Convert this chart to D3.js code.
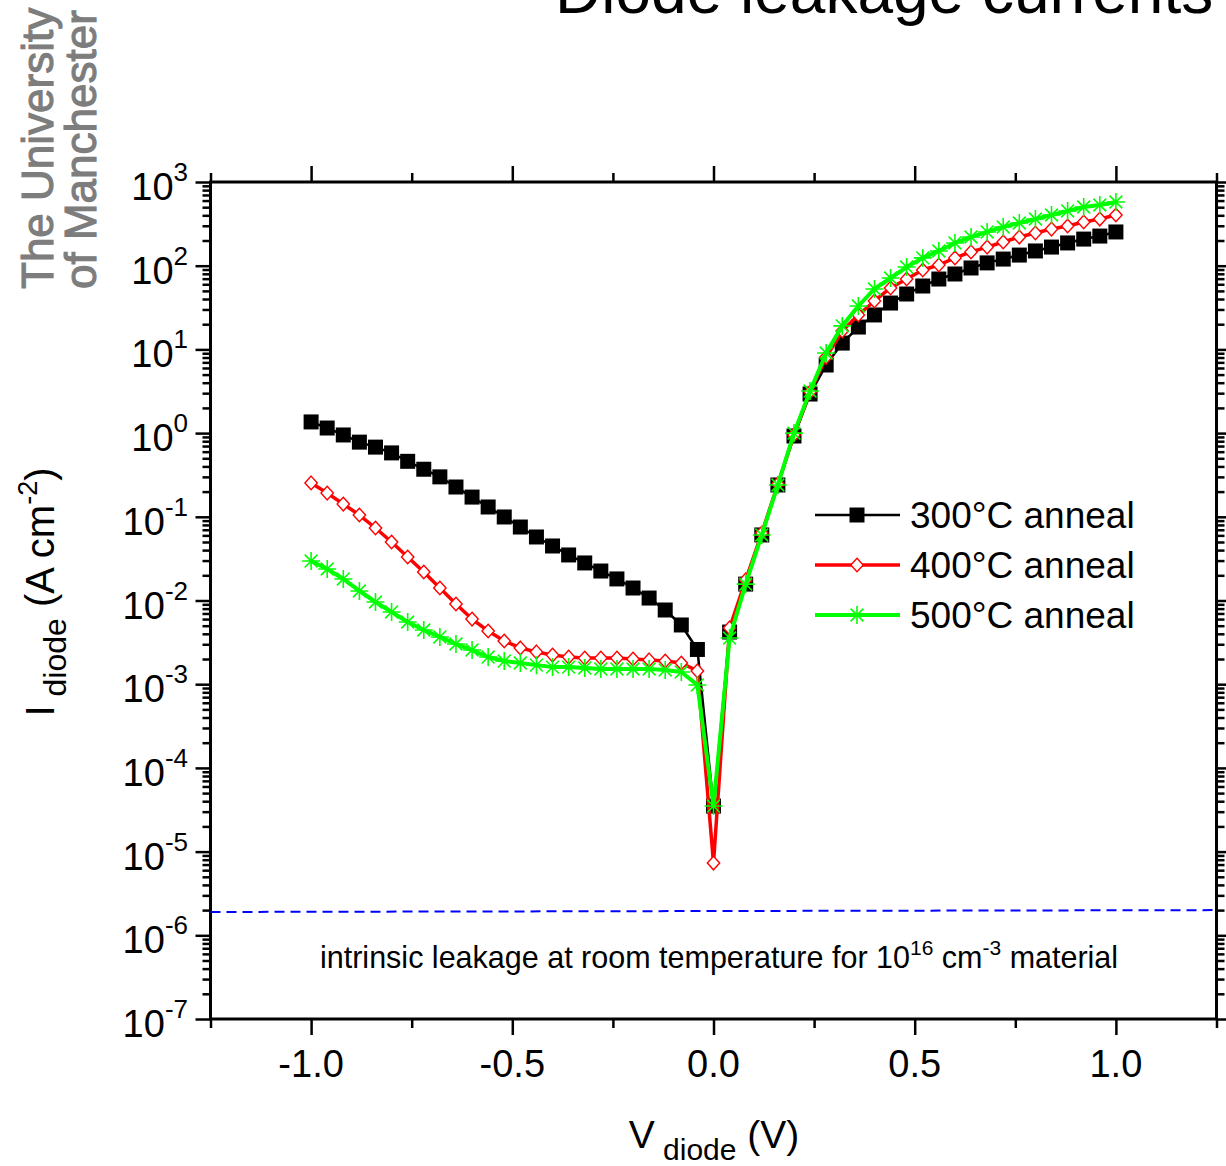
<!DOCTYPE html>
<html><head><meta charset="utf-8">
<script src="https://cdn.jsdelivr.net/npm/d3@7"></script>
<style>
body{margin:0;background:#fff}
svg{display:block}
text{font-family:"Liberation Sans",Arial,Helvetica,sans-serif;fill:#000}
</style>
</head><body>
<svg id="c" width="1226" height="1166"></svg>
<script>
// ---------------- data ----------------
const voltage = [-1.00,-0.96,-0.92,-0.88,-0.84,-0.80,-0.76,-0.72,-0.68,-0.64,-0.60,-0.56,-0.52,-0.48,-0.44,-0.40,-0.36,-0.32,-0.28,-0.24,-0.20,-0.16,-0.12,-0.08,-0.04,
  0.00,
  0.04,0.08,0.12,0.16,0.20,0.24,0.28,0.32,0.36,0.40,0.44,0.48,0.52,0.56,0.60,0.64,0.68,0.72,0.76,0.80,0.84,0.88,0.92,0.96,1.00];

const anneal300 = [1.36,1.15,0.95,0.78,0.68,0.58,0.46,0.37,0.30,0.227,0.172,0.131,0.0995,0.0755,0.0574,0.0448,0.035,0.0281,0.0225,0.0181,0.0141,0.0107,0.0077,0.0051,0.0026,
  3.5e-5,
  0.0042,0.0157,0.0607,0.240,0.923,2.93,6.51,11.9,18.5,25.8,35.8,45.9,57.2,69.3,79.6,93.9,108,120,134,150,167,187,208,226,253];

const anneal400 = [0.254,0.192,0.142,0.105,0.0735,0.050,0.0331,0.0219,0.0141,0.00908,0.0060,0.00432,0.00328,0.00271,0.00243,0.00223,0.00211,0.00205,0.00205,0.00205,0.0020,0.00195,0.00189,0.00179,0.00144,
  7.3e-6,
  0.0047,0.0176,0.064,0.247,0.95,3.1,8.1,16.6,25.8,37.9,54.2,69.3,88.9,102,124,146,167,192,220,246,274,298,333,361,403];

const anneal500 = [0.0296,0.0238,0.0181,0.0130,0.0096,0.0073,0.00554,0.00444,0.00367,0.00302,0.00256,0.00211,0.00189,0.00179,0.00169,0.00160,0.00160,0.00156,0.00152,0.00152,0.00152,0.00152,0.00148,0.00140,0.00098,
  3.5e-5,
  0.00356,0.0157,0.0607,0.240,1.0,3.18,9.06,19.1,33.0,52.7,71.3,96.4,124,150,187,220,253,290,324,361,403,451,503,531,577];

const intrinsicV = [-1.25, 1.25];
const intrinsicI = [1.9e-6, 2.0e-6];

const seriesNames = ["300\u00B0C anneal","400\u00B0C anneal","500\u00B0C anneal"];
const xTickValues = [-1.0,-0.5,0.0,0.5,1.0];
const xMinorValues = [-1.25,-0.75,-0.25,0.25,0.75,1.25];
const yExponents = [3,2,1,0,-1,-2,-3,-4,-5,-6,-7];

// ---------------- layout ----------------
const svg = d3.select("#c");
const x = d3.scaleLinear().domain([-1.25,1.25]).range([210.5,1216.5]);
const y = d3.scaleLog().domain([1e-7,1e3]).range([1019,182]);
const L = x(-1.25), R = x(1.25), T = y(1e3), B = y(1e-7);

const yMajor = yExponents.map(e => Math.pow(10,e));
const yMinor = [];
for (let e=-7;e<3;e++) for (let k=2;k<10;k++) yMinor.push(k*Math.pow(10,e));

// logo
svg.append("text").attr("transform","translate(53,289) rotate(-90)")
  .style("font-size","44px").style("fill","#7d7d7d").style("stroke","#7d7d7d").style("stroke-width","1.1px")
  .text("The University");
svg.append("text").attr("transform","translate(96,289) rotate(-90)")
  .style("font-size","44px").style("fill","#7d7d7d").style("stroke","#7d7d7d").style("stroke-width","1.1px")
  .text("of Manchester");

// title (cut by top edge, as in the reference)
svg.append("text").attr("x",555).attr("y",13).style("font-size","64px").text("Diode leakage currents");

// axes ticks
function styleAxis(g){
  g.select(".domain").remove();
  g.selectAll(".tick line").attr("stroke","#000").attr("stroke-width",2.5);
  g.selectAll(".tick text").remove();
}
svg.append("g").attr("transform",`translate(0,${B})`).call(d3.axisBottom(x).tickValues(xTickValues).tickSize(16)).call(styleAxis);
svg.append("g").attr("transform",`translate(0,${B})`).call(d3.axisBottom(x).tickValues(xMinorValues).tickSize(9)).call(styleAxis);
svg.append("g").attr("transform",`translate(0,${T})`).call(d3.axisTop(x).tickValues(xTickValues).tickSize(16)).call(styleAxis);
svg.append("g").attr("transform",`translate(0,${T})`).call(d3.axisTop(x).tickValues(xMinorValues).tickSize(9)).call(styleAxis);
svg.append("g").attr("transform",`translate(${L},0)`).call(d3.axisLeft(y).tickValues(yMajor).tickSize(15)).call(styleAxis);
svg.append("g").attr("transform",`translate(${L},0)`).call(d3.axisLeft(y).tickValues(yMinor).tickSize(8)).call(styleAxis);
svg.append("g").attr("transform",`translate(${R},0)`).call(d3.axisRight(y).tickValues(yMajor).tickSize(15)).call(styleAxis);
svg.append("g").attr("transform",`translate(${R},0)`).call(d3.axisRight(y).tickValues(yMinor).tickSize(8)).call(styleAxis);

// frame
svg.append("rect").attr("x",L).attr("y",T).attr("width",R-L).attr("height",B-T)
  .attr("fill","none").attr("stroke","#000").attr("stroke-width",3);

// x tick labels
svg.append("g").selectAll("text").data(xTickValues).join("text")
  .attr("x",d=>x(d)).attr("y",1077).attr("text-anchor","middle")
  .style("font-size","38px").text(d=>d.toFixed(1));

// y tick labels
const yl = svg.append("g").selectAll("text").data(yExponents).join("text")
  .attr("x",188).attr("y",d=>y(Math.pow(10,d))+18).attr("text-anchor","end")
  .style("font-size","38px");
yl.append("tspan").text("10");
yl.append("tspan").attr("dy",-19).style("font-size","26px").text(d=>String(d));

// axis titles
const yt = svg.append("text").attr("transform","translate(54,592) rotate(-90)")
  .attr("text-anchor","middle").style("font-size","40px");
yt.append("tspan").text("I");
yt.append("tspan").attr("dy",12).style("font-size","32px").text(" diode");
yt.append("tspan").attr("dy",-12).style("font-size","40px").text(" (A cm");
yt.append("tspan").attr("dy",-17).style("font-size","27px").text("-2");
yt.append("tspan").attr("dy",17).style("font-size","40px").text(")");

const xt = svg.append("text").attr("x",714).attr("y",1148)
  .attr("text-anchor","middle").style("font-size","39px");
xt.append("tspan").text("V");
xt.append("tspan").attr("dy",12).style("font-size","30px").text(" diode");
xt.append("tspan").attr("dy",-12).style("font-size","39px").text(" (V)");

// intrinsic line
const intr = intrinsicV.map((v,i)=>[v,intrinsicI[i]]);
svg.append("path").datum(intr)
  .attr("d",d3.line().x(d=>x(d[0])).y(d=>y(d[1])))
  .attr("fill","none").attr("stroke","#0000ff").attr("stroke-width",2).attr("stroke-dasharray","10,6");

const ann = svg.append("text").attr("x",320).attr("y",968).style("font-size","30.5px");
ann.append("tspan").text("intrinsic leakage at room temperature for 10");
ann.append("tspan").attr("dy",-13).style("font-size","21px").text("16");
ann.append("tspan").attr("dy",13).style("font-size","30.5px").text(" cm");
ann.append("tspan").attr("dy",-13).style("font-size","21px").text("-3");
ann.append("tspan").attr("dy",13).style("font-size","30.5px").text(" material");

// series
const squarePath = "M-7.5,-7.5H7.5V7.5H-7.5Z";
const diamondPath = "M0,-6.8L6.2,0L0,6.8L-6.2,0Z";
const starPath = "M0,-9V9M-9,0H9M-6.4,-6.4L6.4,6.4M-6.4,6.4L6.4,-6.4";
const series = [
  {name:seriesNames[0], vals:anneal300, color:"#000000", lw:2.5, path:squarePath, fill:"#000000", mstroke:"none", msw:0},
  {name:seriesNames[1], vals:anneal400, color:"#ff0000", lw:3.5, path:diamondPath, fill:"#ffffff", mstroke:"#ff0000", msw:1.4},
  {name:seriesNames[2], vals:anneal500, color:"#00ff00", lw:4, path:starPath, fill:"none", mstroke:"#00ff00", msw:1.6}
];
const line = d3.line().x(d=>x(d[0])).y(d=>y(d[1]));
const plot = svg.append("g");
series.forEach(s=>{
  const pts = voltage.map((v,i)=>[v,s.vals[i]]);
  plot.append("path").datum(pts).attr("d",line)
    .attr("fill","none").attr("stroke",s.color).attr("stroke-width",s.lw).attr("stroke-linejoin","round");
  plot.append("g").selectAll("path").data(pts).join("path")
    .attr("transform",d=>`translate(${x(d[0])},${y(d[1])})`)
    .attr("d",s.path).attr("fill",s.fill).attr("stroke",s.mstroke).attr("stroke-width",s.msw);
});

// legend
const leg = svg.append("g");
series.forEach((s,i)=>{
  const yy = 515 + i*50;
  leg.append("line").attr("x1",815).attr("x2",900).attr("y1",yy).attr("y2",yy)
    .attr("stroke",s.color).attr("stroke-width",s.lw);
  leg.append("path").attr("transform",`translate(857,${yy})`).attr("d",s.path)
    .attr("fill",s.fill).attr("stroke",s.mstroke).attr("stroke-width",s.msw);
  leg.append("text").attr("x",910).attr("y",yy+13).style("font-size","37px").text(s.name);
});
</script>
</body></html>
